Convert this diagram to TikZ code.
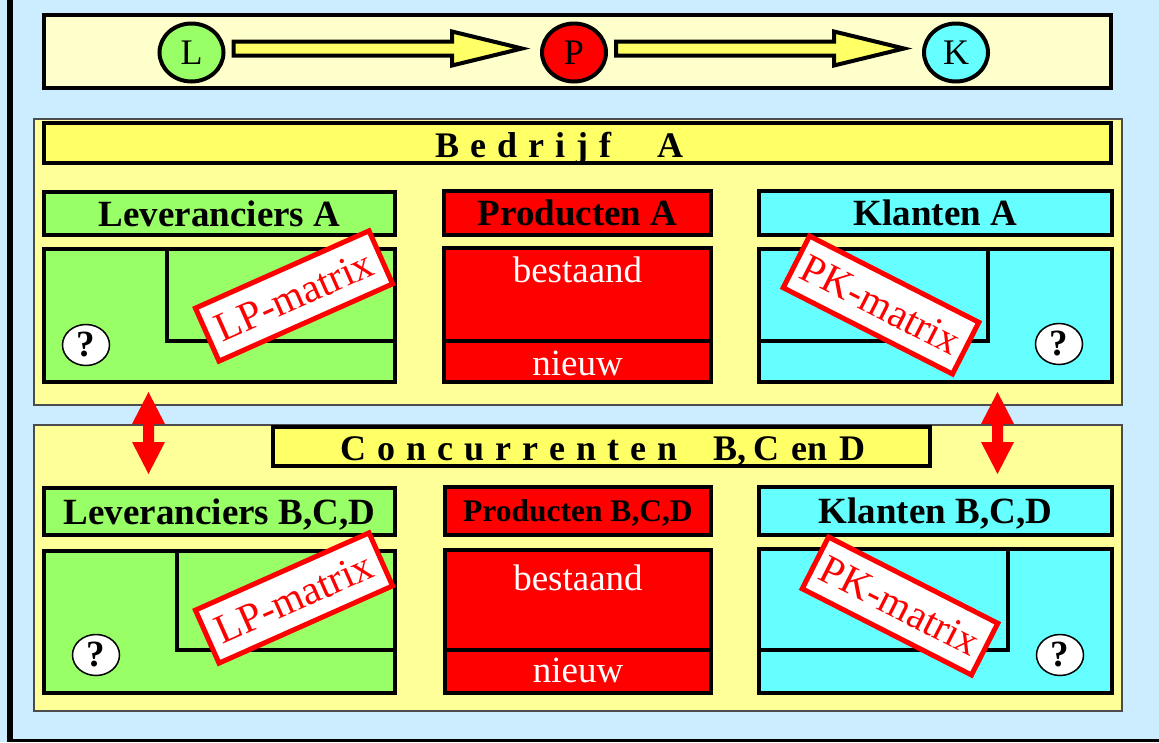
\documentclass[tikz,border=0pt]{standalone}
\usepackage{fontspec}
\setmainfont{Liberation Serif}
\usetikzlibrary{calc,shapes.geometric}

\definecolor{bgblue}{RGB}{204,236,255}
\definecolor{paleyellow}{RGB}{255,255,204}
\definecolor{panelyellow}{RGB}{255,255,153}
\definecolor{titleyellow}{RGB}{255,255,102}
\definecolor{lgreen}{RGB}{153,255,102}
\definecolor{lcyan}{RGB}{102,255,255}
\definecolor{pred}{RGB}{255,0,0}

% letter spacing used in the two panel titles
\newcommand\ls{\kern11pt}

% yellow block arrow between two round nodes
\newcommand\blockarrow[2]{%
  \draw[blockarr] ($(#1.east)+(8,-11)$) -- ($(#2.west)+(-88,-11)$)
    -- ($(#2.west)+(-88,-21)$) -- ($(#2.west)+(-18,-4)$)
    -- ($(#2.west)+(-88,13)$) -- ($(#2.west)+(-88,3)$)
    -- ($(#1.east)+(8,3)$) -- cycle;}

% red double-headed arrow between two coordinates (top, bottom)
\newcommand\dblarrow[2]{%
  \fill[pred] (#1) -- ($(#1)+(16.5,32)$) -- ($(#1)+(5.5,32)$)
    -- ($(#2)+(5.5,-32)$) -- ($(#2)+(16.5,-32)$) -- (#2)
    -- ($(#2)+(-16.5,-32)$) -- ($(#2)+(-5.5,-32)$)
    -- ($(#1)+(-5.5,32)$) -- ($(#1)+(-16.5,32)$) -- cycle;}

\begin{document}
\begin{tikzpicture}[x=1pt,y=-1pt,
  every node/.style={inner sep=0pt},
  panel/.style={draw=black!70, line width=1.5pt, fill=panelyellow},
  titlebar/.style={draw=black, line width=4pt, fill=titleyellow},
  topbar/.style={draw=black, line width=4pt, fill=paleyellow},
  letter/.style={ellipse, draw=black, line width=4pt, minimum width=64pt,
    minimum height=58pt, font=\fontsize{36}{38}\selectfont},
  blockarr/.style={draw=black, line width=4pt, fill=titleyellow, line join=miter},
  hdr/.style={draw=black, line width=4pt, font=\bfseries\fontsize{37}{40}\selectfont,
    text height=25pt, text depth=0pt},
  matbox/.style={draw=black, line width=4pt},
  inner/.style={draw=black, line width=4pt, line join=miter},
  prodtxt/.style={text=white, anchor=base, font=\fontsize{37}{40}\selectfont},
  quest/.style={ellipse, draw=black, line width=1.5pt, fill=white,
    minimum width=47pt, minimum height=41pt,
    font=\bfseries\fontsize{37}{40}\selectfont},
  matlabel/.style={draw=pred, line width=5pt, fill=white, text=pred,
    minimum width=190pt, minimum height=58pt, line join=miter,
    font=\fontsize{41}{43}\selectfont},
  titletxt/.style={anchor=base west, font=\bfseries\fontsize{36}{38}\selectfont}
]
% background and frame
\fill[bgblue] (0,0) rectangle (1159,742);
\useasboundingbox (0,0) rectangle (1159,742);
\fill[black] (7,0) rectangle (13,742);
\fill[black] (7,739) rectangle (1159,742);

% L -> P -> K strip
\node[topbar, minimum width=1067pt, minimum height=73pt] (strip) at (577.5,51.5) {};
\node[letter, fill=lgreen] (L) at (191.5,52.5) {L};
\node[letter, fill=pred]   (P) at (574,52.5) {P};
\node[letter, fill=lcyan]  (K) at (956,52.5) {K};
\blockarrow{L}{P}
\blockarrow{P}{K}

% the two panels
\node[panel, minimum width=1088pt, minimum height=286pt] (bedrijf) at (578,262) {};
\node[panel, minimum width=1088pt, minimum height=286pt] (concur) at (578,568) {};

% panel titles
\node[titlebar, minimum width=1067pt, minimum height=40pt] (titleA) at (577.5,143) {};
\node[titletxt] (titleAtxt) at (435,157) {B\ls e\ls d\ls r\ls i\ls j\ls f\kern46pt A};
\node[titlebar, minimum width=657pt, minimum height=39pt] (titleB) at (601.5,446.5) {};
\node[titletxt] (titleBtxt) at (340,460)
  {C\ls o\ls n\ls c\ls u\ls r\ls r\ls e\ls n\ls t\ls e\ls n\kern36pt B,\kern7pt C\kern12pt en\kern12pt D};

% ---- Bedrijf A ----
\node[hdr, fill=lgreen, minimum width=351pt, minimum height=43pt] (levA) at (219.5,213.5) {Leveranciers A};
\node[hdr, fill=pred,   minimum width=267pt, minimum height=44pt] (prodA) at (577.5,213) {Producten A};
\node[hdr, fill=lcyan,  minimum width=353pt, minimum height=44pt] (klA) at (935.5,213) {Klanten A};

\node[matbox, fill=lgreen, minimum width=351pt, minimum height=133pt] (levAm) at (219.5,315.5) {};
\node[matbox, fill=pred,   minimum width=267pt, minimum height=134pt] (prodAm) at (577.5,315) {};
\node[matbox, fill=lcyan,  minimum width=353pt, minimum height=133pt] (klAm) at (935.5,315.5) {};

\draw[inner] (167,249) -- (167,341) -- (395,341);
\draw[inner] (444,341) -- (711,341);
\draw[inner] (988,249) -- (988,341) -- (759,341);

\node[prodtxt] (bestA) at (577.5,282) {bestaand};
\node[prodtxt] (nieuwA) at (577.5,375) {nieuw};

\node[quest] (qLA) at (86,345) {?};
\node[quest] (qKA) at (1059,344) {?};

\node[matlabel, rotate=24]  (lpA) at (294,296) {LP-matrix};
\node[matlabel, rotate=-27] (pkA) at (881,305) {PK-matrix};

% ---- Concurrenten B, C en D ----
\node[hdr, fill=lgreen, minimum width=351pt, minimum height=47pt] (levB) at (219.5,511.5) {Leveranciers B,C,D};
\node[hdr, fill=pred,   minimum width=266pt, minimum height=48pt,
  font=\bfseries\fontsize{31.5}{34}\selectfont, text height=21pt] (prodB) at (578,511) {Producten B,C,D};
\node[hdr, fill=lcyan,  minimum width=353pt, minimum height=48pt] (klB) at (935.5,511) {Klanten B,C,D};

\node[matbox, fill=lgreen, minimum width=351pt, minimum height=142pt] (levBm) at (219.5,622) {};
\node[matbox, fill=pred,   minimum width=266pt, minimum height=143pt] (prodBm) at (578,621.5) {};
\node[matbox, fill=lcyan,  minimum width=353pt, minimum height=144pt] (klBm) at (935.5,621) {};

\draw[inner] (177,551) -- (177,650) -- (395,650);
\draw[inner] (445,650) -- (711,650);
\draw[inner] (1008,549) -- (1008,650) -- (759,650);

\node[prodtxt] (bestB) at (578,590) {bestaand};
\node[prodtxt] (nieuwB) at (578,682) {nieuw};

\node[quest] (qLB) at (96,655) {?};
\node[quest] (qKB) at (1060,655) {?};

\node[matlabel, rotate=24]  (lpB) at (294,598) {LP-matrix};
\node[matlabel, rotate=-27] (pkB) at (900,606) {PK-matrix};

% links between the company and its competitors
\coordinate (levTop) at (148.5,392);
\coordinate (levBot) at (148.5,474);
\coordinate (klTop) at (997.5,392);
\coordinate (klBot) at (997.5,474);
\dblarrow{levTop}{levBot}
\dblarrow{klTop}{klBot}
\end{tikzpicture}
\end{document}
